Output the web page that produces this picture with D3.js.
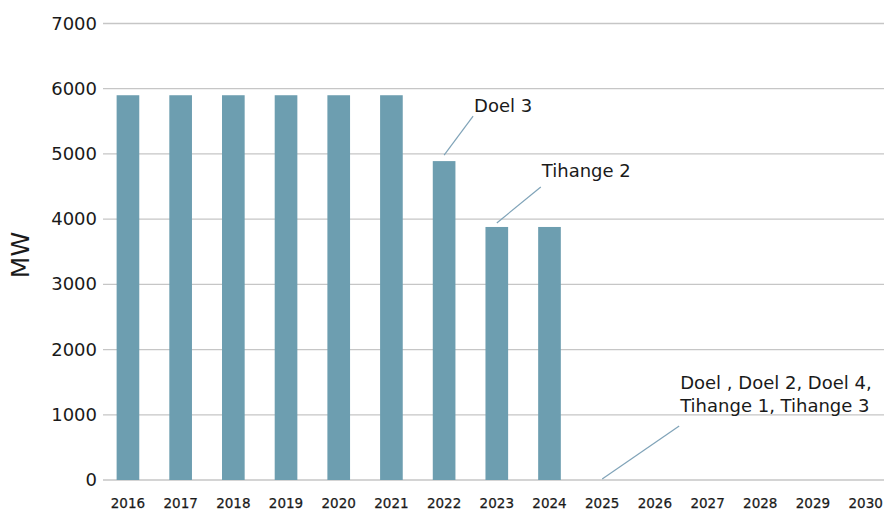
<!DOCTYPE html>
<html>
<head>
<meta charset="utf-8">
<script src="https://cdn.jsdelivr.net/npm/d3@7"></script>
<style>
  body { margin: 0; background: #fff; }
  text { font-family: "DejaVu Sans", sans-serif; fill: #1a1a1a; }
</style>
</head>
<body>
<svg></svg>
<script>
// capacity per year (MW)
var years = [2016, 2017, 2018, 2019, 2020, 2021, 2022, 2023, 2024, 2025, 2026, 2027, 2028, 2029, 2030];
var capacity = [5900, 5900, 5900, 5900, 5900, 5900, 4890, 3880, 3880, 0, 0, 0, 0, 0, 0];
var yTicks = [0, 1000, 2000, 3000, 4000, 5000, 6000, 7000];

// which reactors close, anchored on a year
var noteYears = [2022, 2023, 2025];
var noteLines = [["Doel 3"], ["Tihange 2"], ["Doel , Doel 2, Doel 4,", "Tihange 1, Tihange 3"]];

var width = 888, height = 511;

var svg = d3.select('svg')
    .attr('width', width)
    .attr('height', height);

var x = d3.scaleBand()
    .domain(years)
    .range([101.6, 892])
    .paddingInner(0.57)
    .paddingOuter(0.285);

var y = d3.scaleLinear()
    .domain([0, 7000])
    .range([480, 23.5]);

// gridlines
svg.append('g')
    .selectAll('line')
    .data(yTicks)
    .enter()
    .append('line')
    .attr('x1', 103)
    .attr('x2', 884)
    .attr('y1', function (d) { return y(d) })
    .attr('y2', function (d) { return y(d) })
    .style('stroke', '#c6c6c6')
    .style('stroke-width', 1.3);

// y tick labels
svg.append('g')
    .selectAll('text')
    .data(yTicks)
    .enter()
    .append('text')
    .attr('x', 97)
    .attr('y', function (d) { return y(d) })
    .attr('dy', '0.34em')
    .attr('text-anchor', 'end')
    .attr('font-size', '18px')
    .text(function (d) { return d });

// bars
svg.append('g')
    .selectAll('rect')
    .data(years)
    .enter()
    .append('rect')
    .attr('x', function (d) { return x(d) })
    .attr('width', x.bandwidth())
    .attr('y', function (d, i) { return y(capacity[i]) })
    .attr('height', function (d, i) { return y(0) - y(capacity[i]) })
    .style('fill', '#6d9eb0');

// x labels
svg.append('g')
    .selectAll('text')
    .data(years)
    .enter()
    .append('text')
    .attr('x', function (d) { return x(d) + x.bandwidth() / 2 })
    .attr('y', 508)
    .attr('text-anchor', 'middle')
    .attr('font-size', '13.5px')
    .style('stroke', '#1a1a1a')
    .style('stroke-width', 0.25)
    .text(function (d) { return d });

// axis title
svg.append('text')
    .attr('transform', 'translate(29,255) rotate(-90)')
    .attr('text-anchor', 'middle')
    .attr('font-size', '25px')
    .text('MW');

// annotations: leader line from the bar top up to the label
var leader = [[29, 39, 6, 4], [44, 36, 4, 10], [77, 53, 1, 14]];  // dx, dy, gap above bar, gap to text
noteYears.forEach(function (yr, i) {
    var cx = x(yr) + x.bandwidth() / 2;
    var cy = y(capacity[years.indexOf(yr)]) - leader[i][2];
    var ex = cx + leader[i][0], ey = cy - leader[i][1];
    svg.append('line')
        .attr('x1', cx).attr('y1', cy)
        .attr('x2', ex).attr('y2', ey)
        .style('stroke', '#7fa3b8')
        .style('stroke-width', 1.2);
    var n = noteLines[i].length;
    var t = svg.append('text')
        .attr('font-size', '18px');
    noteLines[i].forEach(function (s, j) {
        t.append('tspan')
            .attr('x', ex + 1)
            .attr('y', ey - leader[i][3] - (n - 1 - j) * 23.5)
            .text(s);
    });
});
</script>
</body>
</html>
